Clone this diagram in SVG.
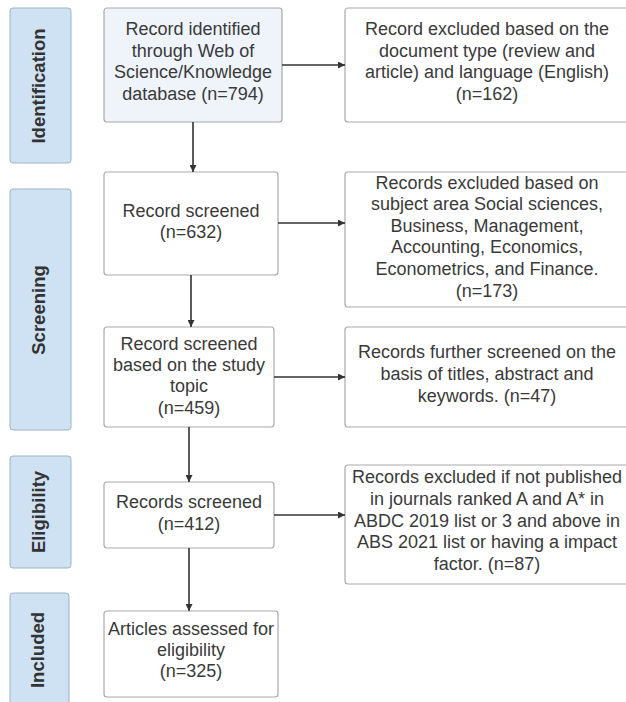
<svg xmlns="http://www.w3.org/2000/svg" width="626" height="702" viewBox="0 0 626 702">
<defs>
<style>
.stage{fill:#cfe2f3;stroke:#9fb3c6;stroke-width:1}
.box{fill:#ffffff;stroke:#a9a9a9;stroke-width:1.2}
.box.blue{fill:#eef4fa}
.t{font-family:"Liberation Sans",Arial,sans-serif;font-size:18px;fill:#3a3a3a;text-anchor:middle}
.st{font-family:"Liberation Sans",Arial,sans-serif;font-size:18.5px;font-weight:bold;fill:#333333;text-anchor:middle}
.c{stroke:#333333;stroke-width:1.6;fill:none;marker-end:url(#ah)}
</style>
<marker id="ah" viewBox="0 0 10 10" refX="10" refY="5" markerWidth="7" markerHeight="7" markerUnits="userSpaceOnUse" orient="auto">
<path d="M0,0 L10,5 L0,10 z" fill="#333333"/>
</marker>
</defs>
<rect width="626" height="702" fill="#ffffff"/>

<g id="stage-identification">
<rect class="stage" x="10" y="8" width="61" height="155" rx="3"/>
<text class="st" transform="translate(45,86) rotate(-90)">Identification</text>
</g>
<g id="stage-screening">
<rect class="stage" x="10" y="189" width="61" height="241" rx="3"/>
<text class="st" transform="translate(45,310) rotate(-90)">Screening</text>
</g>
<g id="stage-eligibility">
<rect class="stage" x="10" y="456" width="61" height="112" rx="3"/>
<text class="st" transform="translate(45,512) rotate(-90)">Eligibility</text>
</g>
<g id="stage-included">
<rect class="stage" x="10" y="593" width="59" height="120" rx="3"/>
<text class="st" transform="translate(44,650) rotate(-90)">Included</text>
</g>

<g id="n1">
<rect class="box blue" x="104" y="8" width="178" height="114" rx="3"/>
<text class="t" x="193" y="35">Record identified</text>
<text class="t" x="193" y="57">through Web of</text>
<text class="t" x="193" y="78">Science/Knowledge</text>
<text class="t" x="193" y="100">database (n=794)</text>
</g>
<g id="x1">
<rect class="box" x="345" y="8" width="300" height="114" rx="3"/>
<text class="t" x="487" y="35">Record excluded based on the</text>
<text class="t" x="487" y="57">document type (review and</text>
<text class="t" x="487" y="78">article) and language (English)</text>
<text class="t" x="487" y="100">(n=162)</text>
</g>
<g id="n2">
<rect class="box" x="104" y="172" width="174" height="103" rx="3"/>
<text class="t" x="191" y="217">Record screened</text>
<text class="t" x="191" y="238">(n=632)</text>
</g>
<g id="x2">
<rect class="box" x="345" y="172" width="300" height="135" rx="3"/>
<text class="t" x="487" y="189">Records excluded based on</text>
<text class="t" x="487" y="210">subject area Social sciences,</text>
<text class="t" x="487" y="232">Business, Management,</text>
<text class="t" x="487" y="253">Accounting, Economics,</text>
<text class="t" x="487" y="275">Econometrics, and Finance.</text>
<text class="t" x="487" y="297">(n=173)</text>
</g>
<g id="n3">
<rect class="box" x="104" y="327" width="170" height="100" rx="3"/>
<text class="t" x="189" y="350">Record screened</text>
<text class="t" x="189" y="371">based on the study</text>
<text class="t" x="189" y="392">topic</text>
<text class="t" x="189" y="414">(n=459)</text>
</g>
<g id="x3">
<rect class="box" x="345" y="327" width="300" height="100" rx="3"/>
<text class="t" x="487" y="358">Records further screened on the</text>
<text class="t" x="487" y="380">basis of titles, abstract and</text>
<text class="t" x="487" y="402">keywords. (n=47)</text>
</g>
<g id="n4">
<rect class="box" x="104" y="482" width="170" height="66" rx="3"/>
<text class="t" x="189" y="508">Records screened</text>
<text class="t" x="189" y="530">(n=412)</text>
</g>
<g id="x4">
<rect class="box" x="345" y="465" width="300" height="119" rx="3"/>
<text class="t" x="487" y="483">Records excluded if not published</text>
<text class="t" x="487" y="505">in journals ranked A and A* in</text>
<text class="t" x="487" y="527">ABDC 2019 list or 3 and above in</text>
<text class="t" x="487" y="548">ABS 2021 list or having a impact</text>
<text class="t" x="487" y="570">factor. (n=87)</text>
</g>
<g id="n5">
<rect class="box" x="104" y="611" width="174" height="86" rx="3"/>
<text class="t" x="191" y="635">Articles assessed for</text>
<text class="t" x="191" y="656">eligibility</text>
<text class="t" x="191" y="677">(n=325)</text>
</g>

<g id="connectors">
<line class="c" x1="193" y1="122" x2="193" y2="172"/>
<line class="c" x1="191" y1="275" x2="191" y2="327"/>
<line class="c" x1="189" y1="427" x2="189" y2="482"/>
<line class="c" x1="189" y1="548" x2="189" y2="611"/>
<line class="c" x1="282" y1="65" x2="345" y2="65"/>
<line class="c" x1="278" y1="223" x2="345" y2="223"/>
<line class="c" x1="274" y1="377" x2="345" y2="377"/>
<line class="c" x1="274" y1="515" x2="345" y2="515"/>
</g>
</svg>
